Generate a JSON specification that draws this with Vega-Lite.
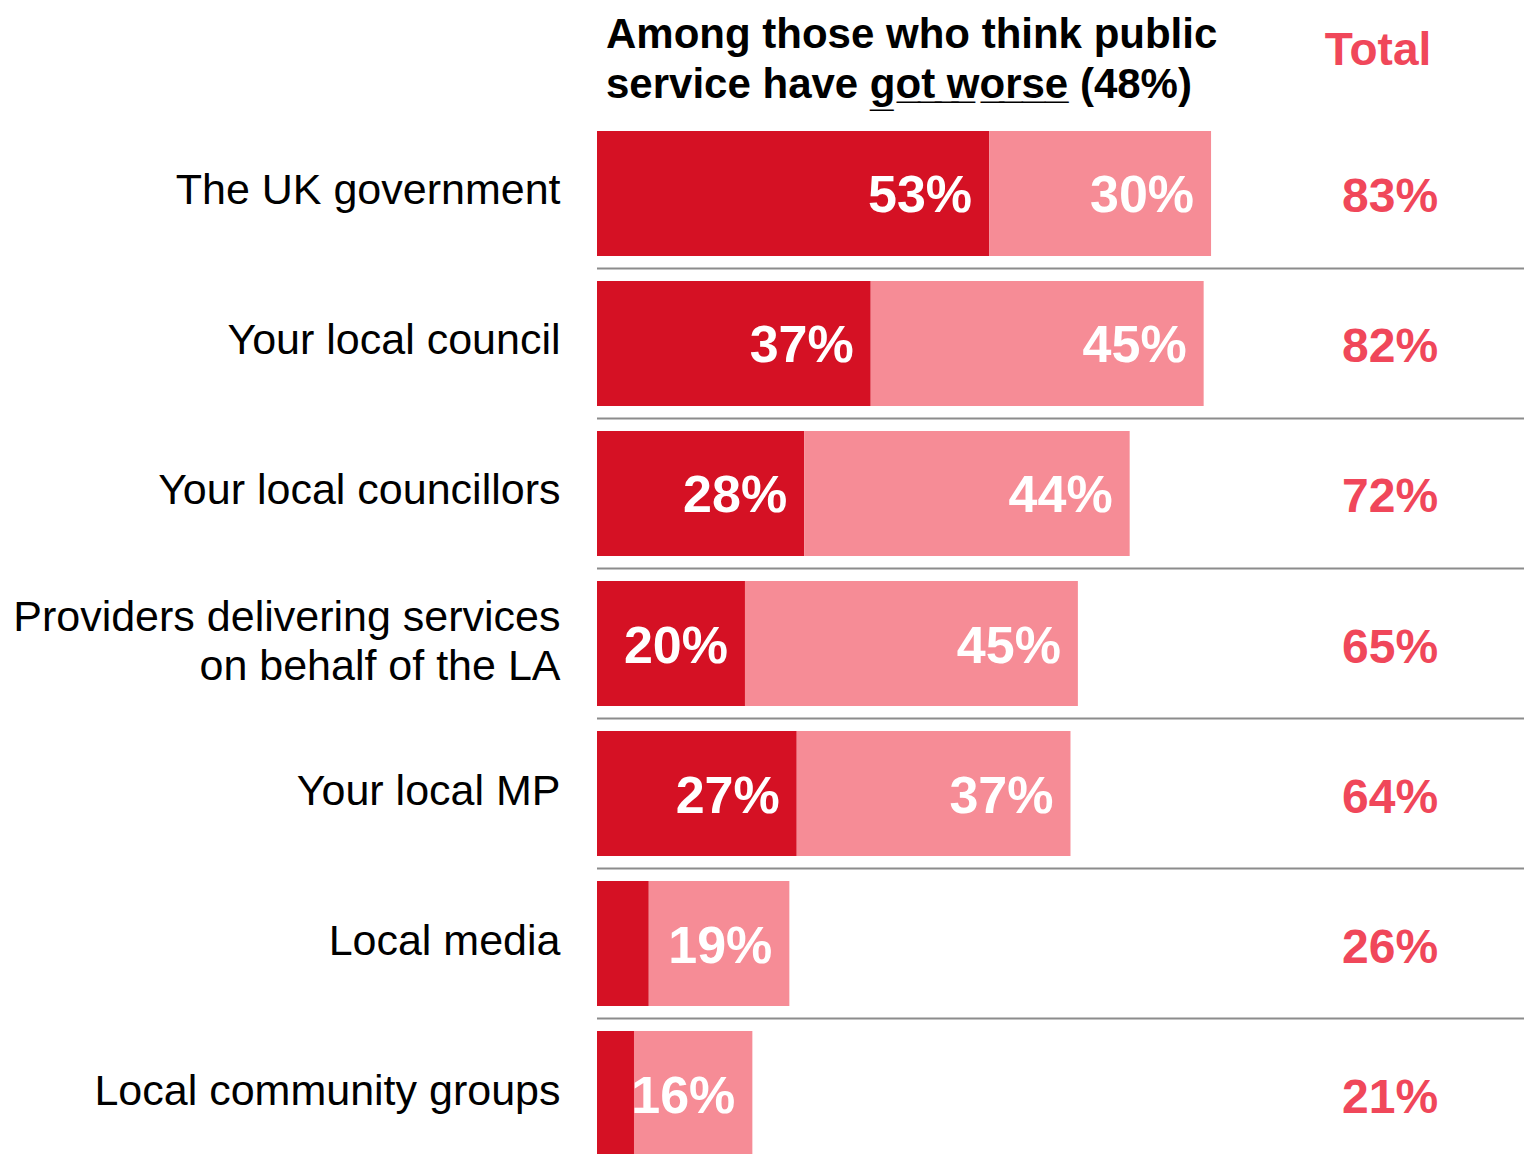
{
  "$schema": "https://vega.github.io/schema/vega-lite/v6.json",
  "width": 927,
  "height": 1025,
  "autosize": {"type": "none"},
  "padding": {"left": 597, "top": 131, "right": 0, "bottom": 0},
  "background": "white",
  "config": {"view": {"stroke": null}, "font": "Liberation Sans"},
  "title": {
    "text": ["Among those who think public", "service have g̲o̲t̲ ̲w̲o̲r̲s̲e̲ (48%)"],
    "anchor": "start",
    "frame": "group",
    "font": "Liberation Sans",
    "fontSize": 42,
    "fontWeight": "bold",
    "color": "#000000",
    "lineHeight": 50,
    "offset": -80,
    "dx": 9
  },
  "datasets": {
    "bars": [
      {"cat": "The UK government", "seg": "dark", "order": 1, "value": 0.53},
      {"cat": "The UK government", "seg": "light", "order": 2, "value": 0.30},
      {"cat": "Your local council", "seg": "dark", "order": 1, "value": 0.37},
      {"cat": "Your local council", "seg": "light", "order": 2, "value": 0.45},
      {"cat": "Your local councillors", "seg": "dark", "order": 1, "value": 0.28},
      {"cat": "Your local councillors", "seg": "light", "order": 2, "value": 0.44},
      {"cat": "Providers delivering services on behalf of the LA", "seg": "dark", "order": 1, "value": 0.20},
      {"cat": "Providers delivering services on behalf of the LA", "seg": "light", "order": 2, "value": 0.45},
      {"cat": "Your local MP", "seg": "dark", "order": 1, "value": 0.27},
      {"cat": "Your local MP", "seg": "light", "order": 2, "value": 0.37},
      {"cat": "Local media", "seg": "dark", "order": 1, "value": 0.07},
      {"cat": "Local media", "seg": "light", "order": 2, "value": 0.19},
      {"cat": "Local community groups", "seg": "dark", "order": 1, "value": 0.05},
      {"cat": "Local community groups", "seg": "light", "order": 2, "value": 0.16}
    ],
    "totals": [
      {"cat": "The UK government", "total": 0.83},
      {"cat": "Your local council", "total": 0.82},
      {"cat": "Your local councillors", "total": 0.72},
      {"cat": "Providers delivering services on behalf of the LA", "total": 0.65},
      {"cat": "Your local MP", "total": 0.64},
      {"cat": "Local media", "total": 0.26},
      {"cat": "Local community groups", "total": 0.21}
    ]
  },
  "layer": [
    {
      "data": {"name": "bars"},
      "transform": [{"filter": "datum.seg == 'dark' && datum.cat != 'The UK government'"}],
      "mark": {"type": "rule", "color": "#8c8c8c", "strokeWidth": 2, "yOffset": -12.5},
      "encoding": {
        "y": {"field": "cat", "type": "nominal", "bandPosition": 0},
        "x": {"datum": 0, "type": "quantitative"},
        "x2": {"datum": 1.3}
      }
    },
    {
      "data": {"name": "bars"},
      "mark": {"type": "bar"},
      "encoding": {
        "y": {
          "field": "cat",
          "type": "nominal",
          "sort": null,
          "scale": {
            "type": "band",
            "paddingInner": 0.1667,
            "paddingOuter": 0,
            "domain": [
              "The UK government",
              "Your local council",
              "Your local councillors",
              "Providers delivering services on behalf of the LA",
              "Your local MP",
              "Local media",
              "Local community groups"
            ]
          },
          "axis": {
            "title": null,
            "domain": false,
            "ticks": false,
            "grid": false,
            "labelFont": "Liberation Sans",
            "labelFontSize": 43,
            "labelColor": "#000000",
            "labelPadding": 37,
            "labelLimit": 600,
            "labelLineHeight": 49,
            "labelOffset": {"condition": {"test": "datum.value == 'Providers delivering services on behalf of the LA'", "value": -26}, "value": -2},
            "labelExpr": "datum.value == 'Providers delivering services on behalf of the LA' ? ['Providers delivering services', 'on behalf of the LA'] : datum.label"
          }
        },
        "x": {
          "field": "value",
          "type": "quantitative",
          "stack": "zero",
          "scale": {"domain": [0, 1.253], "nice": false, "zero": true},
          "axis": {
            "orient": "top",
            "title": null,
            "domain": false,
            "ticks": false,
            "grid": false,
            "values": [1.055],
            "labelExpr": "'Total'",
            "labelFont": "Liberation Sans",
            "labelFontWeight": "bold",
            "labelFontSize": 46,
            "labelColor": "#f0475a",
            "labelPadding": 57,
            "labelAlign": "center"
          }
        },
        "order": {"field": "order", "type": "quantitative"},
        "color": {
          "field": "seg",
          "type": "nominal",
          "scale": {"domain": ["dark", "light"], "range": ["#d51124", "#f68c96"]},
          "legend": null
        }
      }
    },
    {
      "data": {"name": "bars"},
      "transform": [
        {"stack": "value", "groupby": ["cat"], "sort": [{"field": "order"}], "as": ["v0", "v1"]},
        {"filter": "datum.value >= 0.1"}
      ],
      "mark": {"type": "text", "align": "right", "baseline": "middle", "dx": -17, "dy": 3, "font": "Liberation Sans", "fontWeight": "bold", "fontSize": 52, "color": "#ffffff"},
      "encoding": {
        "y": {"field": "cat", "type": "nominal"},
        "x": {"field": "v1", "type": "quantitative"},
        "text": {"field": "value", "type": "quantitative", "format": ".0%"}
      }
    },
    {
      "data": {"name": "totals"},
      "mark": {"type": "text", "align": "center", "baseline": "middle", "dy": 5, "font": "Liberation Sans", "fontWeight": "bold", "fontSize": 48, "color": "#f0475a"},
      "encoding": {
        "y": {"field": "cat", "type": "nominal"},
        "x": {"datum": 1.072, "type": "quantitative"},
        "text": {"field": "total", "type": "quantitative", "format": ".0%"}
      }
    }
  ]
}
